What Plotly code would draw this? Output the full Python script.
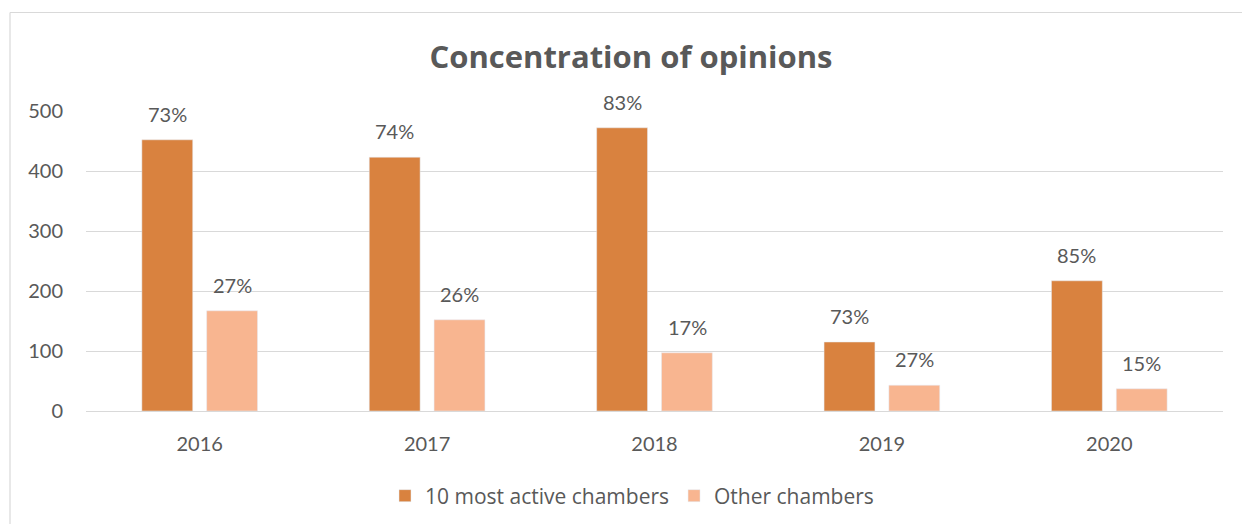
import plotly.graph_objects as go

years = ["2016", "2017", "2018", "2019", "2020"]
top10 = [452, 423, 472, 115, 217]
others = [167, 152, 97, 43, 37]
top10_pct = ["73%", "74%", "83%", "73%", "85%"]
others_pct = ["27%", "26%", "17%", "27%", "15%"]
series_names = ["10 most active chambers", "Other chambers"]

FONT = "Lato, 'Open Sans', sans-serif"
FONT2 = "'Open Sans', Lato, sans-serif"
GREY = "#595959"
C1 = "#D9823F"
C2 = "#F8B590"

fig = go.Figure()
fig.add_trace(go.Bar(x=years, y=top10, name=series_names[0], marker_color=C1))
fig.add_trace(go.Bar(x=years, y=others, name=series_names[1], marker_color=C2))

annotations = []
for vals, labels, shift in [(top10, top10_pct, -32.5), (others, others_pct, 32.5)]:
    for i, (v, lab) in enumerate(zip(vals, labels)):
        annotations.append(dict(x=i, y=v, text=lab, showarrow=False, xref="x", yref="y",
                                xshift=shift, yshift=12, yanchor="bottom",
                                font=dict(family=FONT, size=20, color=GREY)))

W, H = 1242, 524
L, R, T, B = 86, 19, 111, 113
pw, ph = W - L - R, H - T - B

def px(x):
    return (x - L) / pw

def py(y):
    return (H - B - y) / ph

shapes = [
    dict(type="line", xref="paper", yref="paper", x0=px(10), x1=px(1260), y0=py(12.5), y1=py(12.5),
         line=dict(color="#D9D9D9", width=1.2)),
    dict(type="line", xref="paper", yref="paper", x0=px(10), x1=px(10), y0=py(12.5), y1=py(540),
         line=dict(color="#D9D9D9", width=1.2)),
]

fig.update_layout(
    width=W, height=H,
    margin=dict(l=L, r=R, t=T, b=B, autoexpand=False),
    paper_bgcolor="white", plot_bgcolor="white",
    barmode="group", bargap=0.43, bargroupgap=0.215,
    title=dict(text="<b>Concentration of opinions</b>", x=631 / W, xanchor="center",
               y=1 - 57 / H, yanchor="middle",
               font=dict(family=FONT2, size=31, color=GREY)),
    font=dict(family=FONT, size=20, color=GREY),
    xaxis=dict(type="category", categoryorder="array", categoryarray=years,
               range=[-0.5, len(years) - 0.5],
               showgrid=False, showline=False, ticks="", ticklabelstandoff=19,
               tickfont=dict(family=FONT, size=20, color=GREY)),
    yaxis=dict(range=[0, 500], dtick=100, showgrid=True, gridcolor="#D9D9D9", gridwidth=1.2,
               zeroline=True, zerolinecolor="#D9D9D9", zerolinewidth=1.2,
               showline=False, ticks="", ticklabelstandoff=22,
               tickfont=dict(family=FONT, size=20, color=GREY)),
    legend=dict(orientation="h", x=px(632), xanchor="center",
                yref="container", y=(H - 496) / H, yanchor="middle",
                font=dict(family=FONT2, size=21, color=GREY), itemwidth=30,
                traceorder="normal"),
    annotations=annotations,
    shapes=shapes,
    showlegend=True,
)

fig.write_html("out.html", config={"displayModeBar": False})
with open("out.html", "r", encoding="utf-8") as f:
    html = f.read()
html = html.replace("<head>", "<head><style>html,body{margin:0;padding:0;overflow:hidden;}</style>", 1)
with open("out.html", "w", encoding="utf-8") as f:
    f.write(html)
